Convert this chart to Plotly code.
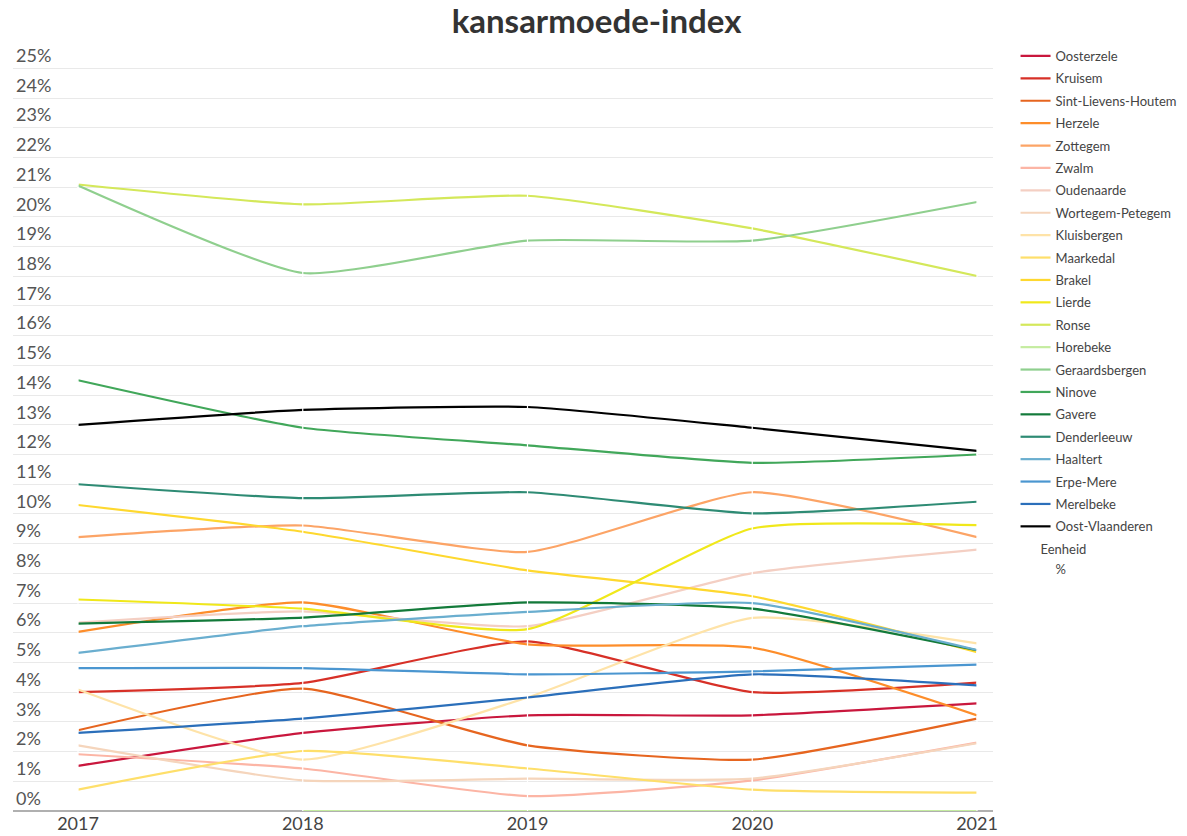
import plotly.graph_objects as go

years = [2017, 2018, 2019, 2020, 2021]

names = ["Oosterzele", "Kruisem", "Sint-Lievens-Houtem", "Herzele", "Zottegem", "Zwalm",
         "Oudenaarde", "Wortegem-Petegem", "Kluisbergen", "Maarkedal", "Brakel", "Lierde",
         "Ronse", "Horebeke", "Geraardsbergen", "Ninove", "Gavere", "Denderleeuw",
         "Haaltert", "Erpe-Mere", "Merelbeke", "Oost-Vlaanderen"]

oosterzele = [1.52, 2.63, 3.22, 3.22, 3.62]
kruisem = [4.0, 4.31, 5.71, 4.0, 4.32]
sint_lievens_houtem = [2.72, 4.12, 2.21, 1.73, 3.11]
herzele = [6.03, 7.02, 5.61, 5.5, 3.22]
zottegem = [9.22, 9.61, 8.72, 10.73, 9.22]
zwalm = [1.91, 1.43, 0.5, 1.03, 2.3]
oudenaarde = [6.34, 6.72, 6.22, 8.01, 8.8]
wortegem_petegem = [2.21, 1.03, 1.09, 1.09, 2.28]
kluisbergen = [4.09, 1.73, 3.82, 6.5, 5.64]
maarkedal = [0.72, 2.02, 1.43, 0.72, 0.62]
brakel = [10.3, 9.4, 8.1, 7.23, 5.35]
lierde = [7.12, 6.81, 6.12, 9.51, 9.62]
ronse = [21.09, 20.42, 20.71, 19.61, 18.01]
horebeke = [None, 0, 0, 0, 0]
geraardsbergen = [21.06, 18.11, 19.2, 19.2, 20.5]
ninove = [14.5, 12.9, 12.31, 11.72, 12.0]
gavere = [6.31, 6.51, 7.02, 6.81, 5.41]
denderleeuw = [11.0, 10.53, 10.73, 10.02, 10.41]
haaltert = [5.32, 6.22, 6.7, 7.0, 5.42]
erpe_mere = [4.81, 4.81, 4.6, 4.7, 4.93]
merelbeke = [2.63, 3.11, 3.82, 4.6, 4.23]
oost_vlaanderen = [13.0, 13.5, 13.6, 12.9, 12.12]

series = [oosterzele, kruisem, sint_lievens_houtem, herzele, zottegem, zwalm,
          oudenaarde, wortegem_petegem, kluisbergen, maarkedal, brakel, lierde,
          ronse, horebeke, geraardsbergen, ninove, gavere, denderleeuw,
          haaltert, erpe_mere, merelbeke, oost_vlaanderen]

colors = ["#c9173d", "#d73027", "#e6651f", "#fd8d2a", "#fca466", "#fcb5a5",
          "#f4cfc3", "#f5d5bc", "#fee3a8", "#fedf6a", "#fed82f", "#f0e81a",
          "#d4e85a", "#c5eca0", "#8fcf8e", "#41a75a", "#137a3a", "#2e8b74",
          "#6aaecf", "#4b96d0", "#2b6fba", "#000000"]

y_ticks = list(range(0, 26))
y_ticktext = [f"{v}%" for v in y_ticks]

FONT = "Lato, 'Open Sans', sans-serif"

fig = go.Figure()
for i, (name, vals, col) in enumerate(zip(names, series, colors)):
    fig.add_trace(go.Scatter(
        x=years, y=vals, name=name, mode="lines",
        line=dict(color=col, width=2.2, shape="spline", smoothing=0.5),
        legendgroup=f"g{i}",
        hovertemplate=name + ": %{y:.2f}%<extra></extra>",
    ))
    fig.add_trace(go.Scatter(
        x=years, y=vals, name=name, mode="markers", showlegend=False,
        marker=dict(symbol="line-ns", size=6, color="white",
                    line=dict(color="white", width=1.2)),
        legendgroup=f"g{i}", hoverinfo="skip",
    ))

# unit legend group
fig.add_trace(go.Scatter(
    x=[None], y=[None], name="%", mode="lines",
    line=dict(color="rgba(0,0,0,0)", width=0),
    legendgroup="eenheid",
    legendgrouptitle=dict(text="&nbsp;&nbsp;&nbsp;&nbsp;&nbsp;&nbsp;Eenheid",
                          font=dict(size=13, color="#444", family=FONT)),
    showlegend=True, hoverinfo="skip",
))

fig.update_layout(
    width=1187, height=836,
    paper_bgcolor="white", plot_bgcolor="white",
    margin=dict(l=5, r=202, t=33, b=33.3, autoexpand=False),
    title=dict(text="<b>kansarmoede-index</b>", x=0.4958, xanchor="center", y=0.9839, yanchor="middle",
               font=dict(size=33, color="#333", family=FONT)),
    font=dict(family=FONT, color="#444"),
    showlegend=True,
    legend=dict(x=1.023, xanchor="left", y=1.0, yanchor="top",
                font=dict(size=13, color="#444", family=FONT),
                tracegroupgap=2.5, itemclick=False, itemdoubleclick=False,
                bgcolor="rgba(0,0,0,0)"),
)

fig.update_xaxes(
    range=[2016.7108, 2021.0712], tickvals=years, ticktext=[str(y) for y in years],
    showgrid=False, zeroline=False, showline=False, ticks="", automargin=False,
    tickfont=dict(size=18, color="#444", family=FONT),
)
fig.update_yaxes(
    range=[0, 25.92], tickvals=y_ticks, ticktext=y_ticktext,
    showgrid=True, gridcolor="#e9e9e9", gridwidth=1, automargin=False,
    zeroline=True, zerolinecolor="#b0b0b0", zerolinewidth=2,
    ticklabelposition="inside top", ticklabelstandoff=0, ticks="",
    tickfont=dict(size=18, color="#555", family=FONT),
)

fig.write_html("out.html")
